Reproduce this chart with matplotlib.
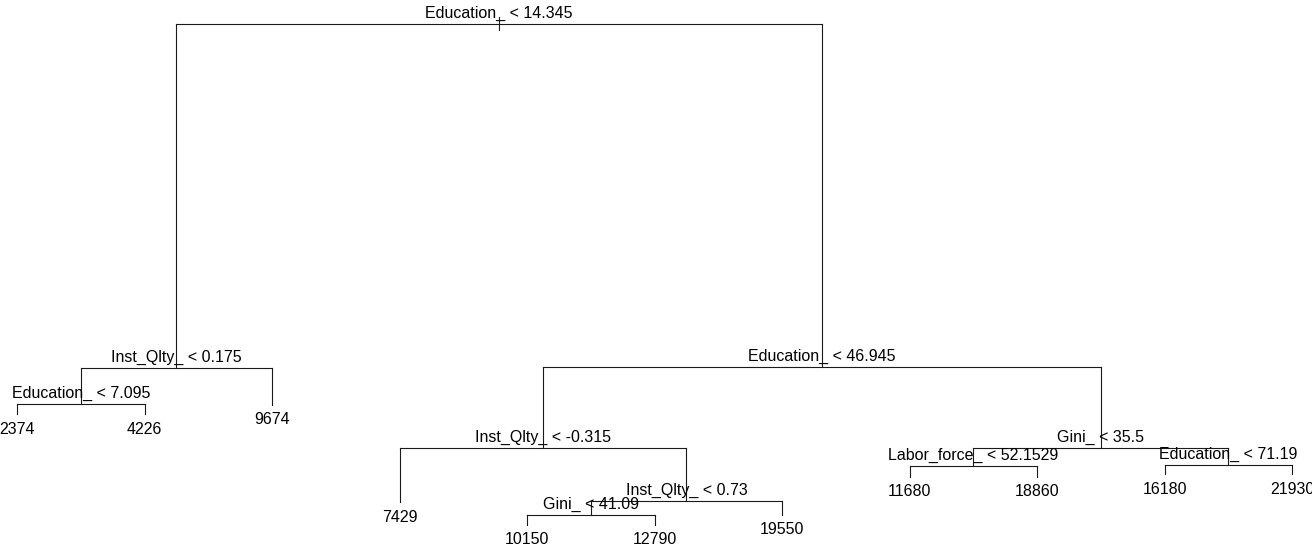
import matplotlib.pyplot as plt

plt.rcParams['font.family'] = ['Liberation Sans', 'DejaVu Sans']

# regression tree, nodes numbered like R's tree (children of n are 2n, 2n+1)
split_nodes = [1, 2, 4, 3, 6, 13, 26, 7, 14, 15]
split_labels = ['Education_ < 14.345', 'Inst_Qlty_ < 0.175', 'Education_ < 7.095',
                'Education_ < 46.945', 'Inst_Qlty_ < -0.315', 'Inst_Qlty_ < 0.73',
                'Gini_ < 41.09', 'Gini_ < 35.5', 'Labor_force_ < 52.1529',
                'Education_ < 71.19']
leaf_nodes = [8, 9, 5, 12, 52, 53, 27, 28, 29, 30, 31]
leaf_values = [2374, 4226, 9674, 7429, 10150, 12790, 19550, 11680, 18860, 16180, 21930]

# node heights (deviance scale)
node_dev = {1: 506, 2: 162, 4: 126, 8: 116, 9: 116, 5: 125,
            3: 163, 6: 82, 12: 28, 13: 29, 26: 15, 52: 5, 53: 5, 27: 15,
            7: 82, 14: 64, 28: 53, 29: 53, 15: 65, 30: 56, 31: 56}

# leaves get x = 1..n in order, internal nodes sit midway between children
xpos = {}
for i, n in enumerate(leaf_nodes):
    xpos[n] = i + 1


def get_x(n):
    if n not in xpos:
        xpos[n] = (get_x(2 * n) + get_x(2 * n + 1)) / 2
    return xpos[n]


get_x(1)

fig = plt.figure(figsize=(13.12, 5.46), dpi=100)
ax = fig.add_axes([0, 0, 1, 1])
ax.set_xlim(1 - 17 / 127.5, 1 + 1295 / 127.5)
ax.set_ylim(-16, 530)
ax.axis('off')

lc = '#1a1a1a'
lw = 0.8

# little stub on the root
ax.plot([xpos[1], xpos[1]], [node_dev[1] - 6, node_dev[1] + 7], color=lc, lw=lw)

for n, lab in zip(split_nodes, split_labels):
    l, r = 2 * n, 2 * n + 1
    y = node_dev[n]
    ax.plot([xpos[l], xpos[r]], [y, y], color=lc, lw=lw)
    ax.plot([xpos[l], xpos[l]], [y, node_dev[l]], color=lc, lw=lw)
    ax.plot([xpos[r], xpos[r]], [y, node_dev[r]], color=lc, lw=lw)
    ax.text(xpos[n], y + 6, lab, ha='center', va='baseline', fontsize=11.5)

for n, v in zip(leaf_nodes, leaf_values):
    ax.text(xpos[n], node_dev[n] - 15, str(v), ha='center', va='center', fontsize=11.5)

fig.savefig('out.png', dpi=100)
